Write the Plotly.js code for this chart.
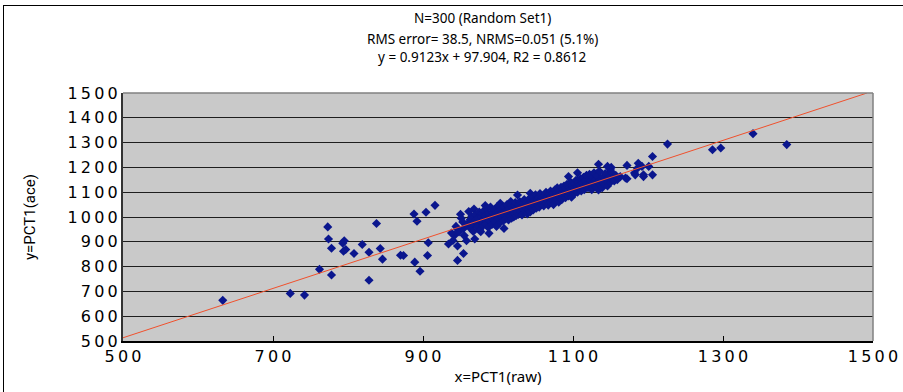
<!DOCTYPE html>
<html>
<head>
<meta charset="utf-8">
<script src="https://cdn.plot.ly/plotly-3.0.1.min.js"></script>
<style>
  html, body { margin: 0; padding: 0; background: #ffffff; }
  #frame { position: absolute; left: 3px; top: 5px; width: 1000px; height: 1000px;
           border-left: 1.5px solid #000; border-top: 1.5px solid #000; }
  #chart { position: absolute; left: 0; top: 0; width: 903px; height: 392px; }
</style>
</head>
<body>
<div id="frame"></div>
<div id="chart"></div>
<script>
// x = PCT1(raw), y = PCT1(ace)
const xRaw = [
  633, 723, 742, 762, 778, 828, 773, 838, 774, 795, 793, 778, 819, 794, 797, 808, 828, 843, 846, 870,
  874, 907, 906, 889, 896, 916, 888, 904, 892,
  934, 946, 954, 946, 958, 969, 942, 946, 954, 950, 953, 968, 977, 988, 986, 972, 1008, 994, 981, 999,
  977, 983, 999, 1003, 1017, 1026, 1043, 1012,
  1134, 1151, 1172, 1187, 1206, 1226, 1286, 1297, 1340, 1385, 1106, 1118, 1094, 1163, 1172, 1186, 1194, 1182,
  1170, 1159, 1106, 1137, 1146, 1139, 1134, 1201, 1192, 1206, 1194, 1183, 1150, 1146,
  960, 962, 963, 965, 966, 967, 969, 970, 972, 973, 975, 976, 977, 978, 979,
  980, 981, 982, 983, 984, 985, 986, 987, 988, 989, 990, 991, 992, 993, 994, 995, 996, 997, 998, 999,
  1000, 1001, 1002, 1003, 1004, 1005, 1006, 1007, 1008, 1009, 1010, 1011, 1012, 1013, 1014, 1015, 1016, 1017, 1017, 1018, 1019, 1019,
  1020, 1021, 1022, 1022, 1023, 1024, 1025, 1026, 1027, 1027, 1028, 1029, 1030, 1031, 1032, 1033, 1034, 1035, 1035, 1036, 1037, 1038, 1038, 1039,
  1040, 1041, 1042, 1042, 1043, 1044, 1045, 1046, 1046, 1047, 1048, 1049, 1050, 1050, 1051, 1052, 1053, 1054, 1055, 1055, 1056, 1057, 1058, 1059,
  1060, 1061, 1062, 1063, 1064, 1064, 1065, 1066, 1067, 1068, 1069, 1070, 1070, 1071, 1072, 1073, 1074, 1075, 1076, 1077, 1077, 1078, 1079, 1079,
  1080, 1081, 1082, 1083, 1084, 1084, 1085, 1086, 1087, 1088, 1089, 1090, 1090, 1091, 1092, 1093, 1094, 1095, 1096, 1097, 1097, 1098, 1099, 1099,
  1100, 1101, 1102, 1103, 1104, 1105, 1106, 1107, 1108, 1109, 1110, 1111, 1112, 1113, 1114, 1115, 1116, 1117, 1118, 1119,
  1120, 1121, 1122, 1123, 1124, 1125, 1126, 1127, 1128, 1129, 1130, 1131, 1132, 1133, 1135, 1136, 1137, 1139,
  1140, 1141, 1143, 1144, 1146, 1148, 1150, 1152, 1153, 1155, 1157, 1160,
  938, 944, 948, 955, 958, 961, 940, 951
];
const yAce = [
  664, 692, 685, 789, 766, 745, 960, 974, 911, 904, 894, 874, 889, 862, 869, 853, 858, 873, 830, 846,
  845, 896, 845, 818, 781, 1047, 1012, 1019, 983,
  891, 883, 853, 825, 904, 911, 926, 951, 954, 1011, 980, 1032, 941, 934, 974, 988, 954, 1001, 1001, 988,
  974, 1046, 1042, 1055, 1062, 1089, 1096, 1008,
  1213, 1200, 1208, 1217, 1244, 1294, 1271, 1278, 1336, 1292, 1178, 1166, 1163, 1163, 1154, 1197, 1170, 1177,
  1157, 1150, 1146, 1157, 1170, 1130, 1109, 1204, 1204, 1170, 1163, 1170, 1190, 1204,
  975, 958, 990, 1003, 968, 942, 985, 1010, 960, 995, 1020, 948, 1000, 982, 1015,
  965, 1025, 990, 1005, 972, 1035, 995, 958, 1012, 985, 1040, 1000, 970, 1018, 990, 1028, 980, 1008, 962, 1022,
  995, 1045, 1010, 978, 1030, 1000, 1018, 985, 1040, 1005, 992, 1025, 1050, 1012, 988, 1032, 1003, 1020, 1048, 995, 1038, 1010,
  1028, 1000, 1045, 1015, 1058, 1005, 1035, 1020, 1050, 1010, 1030, 1062, 1022, 1040, 1008, 1055, 1030, 1018, 1070, 1045, 1025, 1060, 1035, 1012,
  1050, 1030, 1075, 1042, 1020, 1060, 1038, 1082, 1050, 1028, 1065, 1045, 1090, 1055, 1035, 1070, 1048, 1080, 1060, 1040, 1095, 1068, 1052, 1078,
  1062, 1045, 1088, 1070, 1100, 1055, 1080, 1065, 1048, 1092, 1075, 1060, 1105, 1085, 1068, 1095, 1050, 1078, 1110, 1088, 1065, 1100, 1072, 1118,
  1090, 1060, 1105, 1080, 1120, 1095, 1070, 1110, 1088, 1125, 1100, 1078, 1115, 1092, 1132, 1105, 1085, 1120, 1098, 1140, 1112, 1080, 1128, 1102,
  1118, 1092, 1135, 1108, 1148, 1125, 1100, 1140, 1115, 1130, 1155, 1105, 1138, 1122, 1160, 1110, 1145, 1128, 1168, 1135,
  1118, 1150, 1172, 1132, 1145, 1110, 1160, 1138, 1178, 1125, 1150, 1120, 1165, 1140, 1185, 1128, 1145, 1118,
  1160, 1135, 1175, 1148, 1125, 1162, 1140, 1178, 1155, 1145, 1168, 1158,
  935, 962, 940, 925, 968, 1022, 905, 995
];
// reference line drawn across the plot
const refLineX = [500, 1492];
const refLineY = [513, 1500];

const tickVals = [500, 700, 900, 1100, 1300, 1500];
const yTickVals = [500, 600, 700, 800, 900, 1000, 1100, 1200, 1300, 1400, 1500];
const sp = '\u2009';
const spaced = v => String(v).split('').join(sp);

const titleLines = [
  'N=300 (Random Set1)',
  'RMS error= 38.5, NRMS=0.051 (5.1%)',
  'y = 0.9123x + 97.904, R2 = 0.8612'
];
const titleRowsY = [18, 39, 57];   // pixel rows of the three title lines

const data = [
  {
    x: xRaw, y: yAce, type: 'scatter', mode: 'markers',
    marker: { symbol: 'diamond', size: 7, color: '#0a168e', line: { width: 0 } },
    hoverinfo: 'x+y'
  },
  {
    x: refLineX, y: refLineY, type: 'scatter', mode: 'lines',
    line: { color: '#f0502c', width: 1 }, hoverinfo: 'skip'
  }
];

const layout = {
  width: 903, height: 392,
  margin: { l: 123, r: 30, t: 93, b: 51, pad: 0 },
  paper_bgcolor: 'rgba(0,0,0,0)',
  plot_bgcolor: '#c9c9c9',
  showlegend: false,
  font: { family: 'DejaVu Sans, sans-serif', color: '#000' },
  annotations: titleLines.map((t, i) => ({
    text: t, showarrow: false,
    xref: 'paper', x: 0.479, xanchor: 'center',
    yref: 'paper', y: 1 + (93 - titleRowsY[i]) / 248, yanchor: 'middle',
    font: { family: 'Noto Sans, DejaVu Sans, sans-serif', size: 13.5, color: '#000' }
  })),
  xaxis: {
    range: [500, 1500], tickmode: 'array', tickvals: tickVals, ticktext: tickVals.map(spaced),
    showgrid: false, zeroline: false,
    showline: true, linecolor: '#000', linewidth: 1.5,
    ticks: 'inside', ticklen: 5, tickcolor: '#000', tickwidth: 1,
    tickfont: { family: 'DejaVu Sans, sans-serif', size: 16, color: '#000' },
    title: { text: 'x=PCT1(raw)', font: { family: 'Noto Sans, DejaVu Sans, sans-serif', size: 15, color: '#000' }, standoff: 7 }
  },
  yaxis: {
    range: [500, 1500], tickmode: 'array', tickvals: yTickVals, ticktext: yTickVals.map(spaced),
    showgrid: true, gridcolor: '#1e1e1e', gridwidth: 1, zeroline: false,
    showline: true, linecolor: '#333', linewidth: 2,
    ticks: 'outside', ticklen: 0, tickcolor: '#000',
    tickfont: { family: 'DejaVu Sans, sans-serif', size: 16, color: '#000' },
    title: { text: 'y=PCT1(ace)', font: { family: 'Liberation Sans Narrow, Roboto, sans-serif', size: 15, color: '#000' }, standoff: 28 }
  },
  shapes: [
    { type: 'line', xref: 'paper', yref: 'paper', x0: 0, x1: 1, y0: 1, y1: 1, line: { color: '#808080', width: 1.5 } },
    { type: 'line', xref: 'paper', yref: 'paper', x0: 1, x1: 1, y0: 0, y1: 1, line: { color: '#808080', width: 1.5 } }
  ]
};

Plotly.newPlot('chart', data, layout, { displayModeBar: false, staticPlot: true });
</script>
</body>
</html>
